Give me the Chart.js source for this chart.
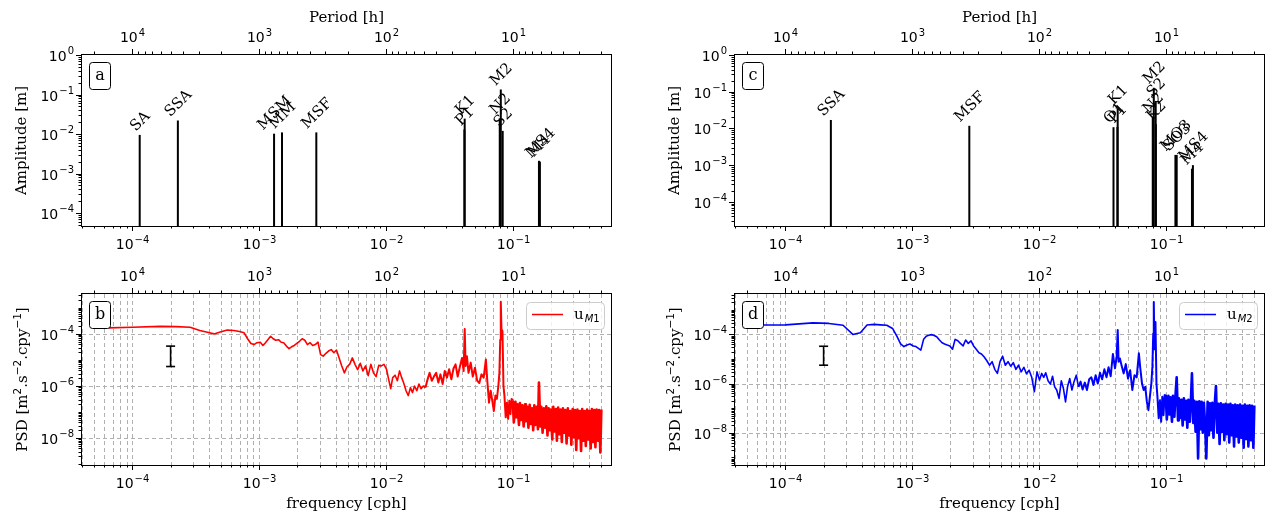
<!DOCTYPE html>
<html>
<head>
<meta charset="utf-8">
<script src="https://cdn.jsdelivr.net/npm/chart.js@4"></script>
<style>
  body{margin:0;background:#fff;width:1272px;height:518px;overflow:hidden}
  canvas{position:absolute}
</style>
</head>
<body>
<canvas id="ca" width="636" height="259" style="left:0;top:0"></canvas>
<canvas id="cc" width="636" height="259" style="left:636px;top:0"></canvas>
<canvas id="cb" width="636" height="259" style="left:0;top:259px"></canvas>
<canvas id="cd" width="636" height="259" style="left:636px;top:259px"></canvas>
<script>
// tidal constituents, panel a
const constA = ['SA', 'SSA', 'MSM', 'MM', 'MSF', 'P1', 'K1', 'N2', 'M2', 'S2', 'M4', 'MS4']
const freqA = [1.141e-4, 2.282e-4, 1.3098e-3, 1.5122e-3, 2.8219e-3, 0.0415526, 0.0417807, 0.0789992, 0.0805114, 0.0833333, 0.1610228, 0.1638447]
const ampA = [0.0095, 0.022, 0.0102, 0.011, 0.011, 0.013, 0.0245, 0.025, 0.134, 0.012, 0.0021, 0.0020]

// tidal constituents, panel c
const constC = ['SSA', 'MSF', 'O1', 'P1', 'K1', 'N2', 'K2', 'S2', 'M2', 'MO3', 'SO3', 'M4', 'MS4']
const freqC = [2.282e-4, 2.8219e-3, 0.0387307, 0.0415526, 0.0417807, 0.0789992, 0.0835615, 0.0833333, 0.0805114, 0.1192421, 0.1220640, 0.1610228, 0.1638447]
const ampC = [0.017, 0.0118, 0.0108, 0.011, 0.035, 0.02, 0.013, 0.056, 0.128, 0.0019, 0.0019, 0.0008, 0.0010]

// spectra (cph)
const freqPsd = [
  6.5e-5, 1.0e-4, 1.65e-4, 2.2e-4, 2.85e-4, 3.4e-4, 3.9e-4, 4.4e-4, 5.0e-4, 5.6e-4,
  6.3e-4, 7.0e-4, 7.6e-4, 8.1e-4, 8.6e-4, 9.1e-4, 9.6e-4, 1.02e-3, 1.07e-3, 1.12e-3,
  1.17e-3, 1.23e-3, 1.29e-3, 1.35e-3, 1.42e-3, 1.49e-3, 1.56e-3, 1.64e-3, 1.72e-3, 1.80e-3,
  1.89e-3, 1.98e-3, 2.08e-3, 2.18e-3, 2.29e-3, 2.40e-3, 2.52e-3, 2.64e-3, 2.77e-3, 2.91e-3,
  3.05e-3, 3.20e-3, 3.36e-3, 3.52e-3, 3.70e-3, 3.88e-3, 4.07e-3, 4.27e-3, 4.48e-3, 4.70e-3,
  4.93e-3, 5.17e-3, 5.43e-3, 5.70e-3, 5.98e-3, 6.27e-3, 6.58e-3, 6.90e-3, 7.24e-3, 7.60e-3,
  7.97e-3, 8.36e-3, 8.77e-3, 9.20e-3, 9.65e-3,
  0.0101, 0.0105, 0.0109, 0.0113, 0.0118, 0.0123, 0.0128, 0.0133, 0.0138, 0.0144,
  0.0150, 0.0156, 0.0162, 0.0168, 0.0175, 0.0182, 0.0189, 0.0197, 0.0205, 0.0213,
  0.0221, 0.0230, 0.0239, 0.0249, 0.0259, 0.0269, 0.0280, 0.0291, 0.0303, 0.0315,
  0.0328, 0.0341, 0.0354, 0.0368, 0.0383, 0.0398, 0.0410, 0.0418, 0.0425, 0.0435,
  0.0448, 0.0466, 0.0484, 0.0504, 0.0524, 0.0545, 0.0567, 0.0590, 0.0614, 0.0630,
  0.0650, 0.0670, 0.0690, 0.0710, 0.0730, 0.0750, 0.0770, 0.0785, 0.0797, 0.0805,
  0.0815, 0.0830, 0.0845, 0.0860, 0.0880, 0.0900, 0.0920, 0.0940, 0.0960, 0.0980,
  0.100, 0.102, 0.105, 0.107, 0.109, 0.112, 0.114, 0.117, 0.119, 0.122,
  0.125, 0.127, 0.130, 0.133, 0.136, 0.139, 0.142, 0.145, 0.148, 0.151,
  0.155, 0.158, 0.161, 0.165, 0.168, 0.172, 0.176, 0.180, 0.184, 0.188,
  0.192, 0.196, 0.200, 0.205, 0.209, 0.214, 0.219, 0.223, 0.228, 0.233,
  0.238, 0.244, 0.249, 0.255, 0.260, 0.266, 0.272, 0.278, 0.284, 0.290,
  0.297, 0.303, 0.310, 0.317, 0.324, 0.331, 0.338, 0.346, 0.353, 0.361,
  0.369, 0.377, 0.386, 0.394, 0.403, 0.412, 0.421, 0.430, 0.440, 0.449,
  0.459, 0.470, 0.480, 0.491, 0.500
]
const psdM1 = [
  1.7e-4, 1.8e-4, 1.95e-4, 1.9e-4, 1.8e-4, 1.35e-4, 1.15e-4, 1.0e-4, 1.2e-4, 1.4e-4,
  1.35e-4, 1.23e-4, 1.1e-4, 6.5e-5, 4.3e-5, 3.9e-5, 4.6e-5, 4.8e-5, 3.6e-5, 4.6e-5,
  6.0e-5, 8.1e-5, 6.5e-5, 5.7e-5, 6.0e-5, 4.8e-5, 4.6e-5, 3.4e-5, 2.7e-5, 3.2e-5,
  3.6e-5, 4.3e-5, 5.2e-5, 6.5e-5, 5.7e-5, 3.9e-5, 4.6e-5, 3.6e-5, 3.9e-5, 4.8e-5,
  1.6e-5, 1.4e-5, 1.8e-5, 2.2e-5, 2.5e-5, 1.9e-5, 2.4e-5, 1.2e-5, 5.9e-6, 3.2e-6,
  5.5e-6, 6.8e-6, 1.2e-5, 6.8e-6, 4.2e-6, 7.4e-6, 3.8e-6, 5.9e-6, 2.5e-6, 6.8e-6,
  3.2e-6, 2.3e-6, 6.2e-6, 5.9e-6, 6.8e-6,
  4.4e-6, 1.8e-6, 7.9e-7, 2.1e-6, 2.6e-6, 1.6e-6, 3.8e-6, 2.1e-6, 1.3e-6, 6.6e-7,
  4.3e-7, 8.7e-7, 5.6e-7, 1.0e-6, 6.6e-7, 1.2e-6, 7.9e-7, 1.0e-6, 8.7e-7, 1.8e-6,
  3.2e-6, 1.6e-6, 2.3e-6, 3.2e-6, 1.35e-6, 2.8e-6, 1.2e-6, 3.8e-6, 2.1e-6, 4.4e-6,
  1.8e-6, 4.7e-6, 6.8e-6, 2.3e-6, 5.5e-6, 1.2e-5, 3.8e-6, 1.55e-4, 5.9e-6, 1.4e-5,
  3.2e-6, 7.9e-6, 2.3e-6, 5.0e-6, 1.6e-6, 1.3e-6, 2.8e-6, 2.1e-6, 1.05e-5, 1.6e-6,
  2.3e-7, 6.6e-7, 2.7e-7, 1.1e-7, 4.3e-7, 3.2e-7, 1.0e-6, 3.2e-6, 6.0e-5, 1.7e-3,
  1.5e-4, 1.26e-4, 1.0e-6, 4.3e-7, 6.3e-8, 2.3e-7, 5.5e-8, 2.7e-7, 8.5e-8, 3.2e-7,
  2.8e-7, 4.0e-8, 2.5e-7, 6.3e-8, 2.0e-7, 3.2e-8, 2.2e-7, 5.0e-8, 1.8e-7, 2.8e-8,
  2.0e-7, 4.5e-8, 1.6e-7, 2.5e-8, 1.9e-7, 3.5e-8, 1.4e-7, 2.0e-8, 1.8e-7, 3.2e-8,
  1.6e-7, 2.2e-8, 1.35e-6, 2.8e-8, 1.6e-7, 1.6e-8, 1.4e-7, 2.5e-8, 1.65e-7, 1.26e-8,
  1.4e-7, 2.0e-8, 1.26e-7, 8.9e-9, 1.6e-7, 1.8e-8, 1.3e-7, 7.9e-9, 1.5e-7, 1.4e-8,
  1.26e-7, 7.1e-9, 1.4e-7, 1.6e-8, 1.2e-7, 6.3e-9, 1.4e-7, 1.26e-8, 1.1e-7, 5.6e-9,
  1.3e-7, 1.1e-8, 1.2e-7, 3.5e-9, 1.26e-7, 1.0e-8, 1.1e-7, 3.2e-9, 1.3e-7, 7.9e-9,
  1.1e-7, 5.0e-9, 1.26e-7, 8.9e-9, 1.1e-7, 4.0e-9, 1.3e-7, 7.1e-9, 1.2e-7, 4.5e-9,
  1.26e-7, 7.9e-9, 1.2e-7, 2.8e-9, 1.26e-7
]
const psdM2 = [
  2.4e-4, 2.45e-4, 2.95e-4, 2.8e-4, 2.35e-4, 1.0e-4, 1.17e-4, 2.4e-4, 2.55e-4, 2.45e-4,
  2.35e-4, 1.75e-4, 8.1e-5, 4.1e-5, 3.2e-5, 3.7e-5, 4.1e-5, 3.4e-5, 3.2e-5, 2.7e-5,
  2.3e-5, 6.3e-5, 8.5e-5, 9.3e-5, 9.8e-5, 9.1e-5, 8.1e-5, 5.9e-5, 4.6e-5, 4.1e-5,
  3.7e-5, 3.4e-5, 2.5e-5, 6.3e-5, 5.5e-5, 4.3e-5, 3.4e-5, 5.9e-5, 4.3e-5, 5.5e-5,
  3.4e-5, 2.5e-5, 1.8e-5, 1.6e-5, 1.2e-5, 8.5e-6, 5.6e-6, 7.8e-6, 3.8e-6, 2.6e-6,
  7.8e-6, 1.3e-5, 5.6e-6, 7.8e-6, 5.1e-6, 7.1e-6, 3.8e-6, 5.6e-6, 3.0e-6, 4.6e-6,
  2.5e-6, 3.5e-6, 1.8e-6, 4.7e-7, 3.0e-6,
  1.4e-6, 2.6e-6, 1.8e-6, 2.75e-6, 1.3e-6, 9.5e-7, 2.0e-6, 7.4e-7, 5.5e-7, 2.5e-7,
  1.3e-6, 6.3e-7, 1.8e-7, 7.4e-7, 1.6e-6, 5.5e-7, 1.2e-6, 2.2e-6, 7.4e-7, 1.2e-6,
  5.8e-7, 1.1e-6, 5.5e-7, 1.5e-6, 1.8e-6, 8.7e-7, 2.2e-6, 1.0e-6, 2.75e-6, 1.5e-6,
  3.8e-6, 1.8e-6, 4.6e-6, 2.0e-6, 1.6e-5, 4.2e-6, 1.2e-5, 1.5e-4, 7.8e-6, 1.05e-5,
  5.6e-6, 2.6e-6, 6.2e-6, 1.6e-6, 3.5e-6, 5.5e-7, 2.2e-6, 1.8e-6, 1.7e-5, 4.2e-6,
  1.0e-6, 5.5e-7, 7.4e-7, 1.8e-7, 8.3e-8, 2.95e-7, 1.0e-6, 4.9e-6, 1.1e-4, 2.1e-3,
  2.5e-5, 3.2e-4, 1.0e-6, 2.95e-7, 3.9e-8, 2.1e-7, 2.8e-8, 2.95e-7, 5.2e-8, 3.4e-7,
  3.5e-7, 3.5e-8, 3.2e-7, 5.6e-8, 2.8e-7, 2.8e-8, 3.2e-7, 4.5e-8, 2.5e-7, 1.8e-6,
  3.2e-8, 2.5e-7, 4.0e-8, 2.2e-7, 2.0e-8, 2.5e-7, 3.5e-8, 2.0e-7, 1.6e-8, 2.2e-7,
  2.8e-8, 2.0e-7, 2.6e-6, 2.5e-8, 2.0e-7, 1.1e-8, 1.8e-7, 9.1e-10, 1.9e-7, 1.4e-8,
  1.8e-7, 1.0e-8, 1.65e-7, 1.6e-8, 9.1e-10, 1.8e-7, 7.9e-9, 1.6e-7, 1.26e-8, 1.65e-7,
  6.3e-9, 1.6e-7, 7.9e-7, 1.0e-8, 1.5e-7, 3.5e-9, 1.6e-7, 1.1e-8, 1.4e-7, 5.0e-9,
  1.5e-7, 8.9e-9, 1.4e-7, 4.0e-9, 1.5e-7, 7.9e-9, 1.3e-7, 2.8e-9, 1.4e-7, 7.1e-9,
  1.3e-7, 4.0e-9, 1.4e-7, 6.3e-9, 1.26e-7, 2.5e-9, 1.4e-7, 5.6e-9, 1.26e-7, 2.8e-9,
  1.3e-7, 5.0e-9, 1.26e-7, 2.5e-9, 1.3e-7
]

// confidence bar
const errFreq = [2e-4]
const errLowM1 = [5.6e-6], errHighM1 = [3.4e-5]
const errLowM2 = [5.6e-6], errHighM2 = [3.3e-5]

// axes ticks
const freqMajor = [1e-4, 1e-3, 1e-2, 1e-1]
const periodMajor = [1e4, 1e3, 1e2, 1e1]
const ampMajor = [1, 1e-1, 1e-2, 1e-3, 1e-4]
const psdMajor = [1e-4, 1e-6, 1e-8]

const xMin = 4.0e-5, xMax = 0.596
const SANS = '"DejaVu Sans"', SERIF = '"DejaVu Serif"'

const isMajor = (v, list) => list.some(m => Math.abs(Math.log10(v) - Math.log10(m)) < 1e-6)
function logTicks(lo, hi){
  const out = []
  for(let n = Math.floor(Math.log10(lo)); n <= Math.ceil(Math.log10(hi)); n++){
    for(let k = 1; k <= 9; k++){
      const v = k * Math.pow(10, n)
      if(v >= lo * 0.9999 && v <= hi * 1.0001) out.push(v)
    }
  }
  return out
}
function periodTicks(){
  const out = []
  for(let n = 0; n <= 5; n++){
    for(let k = 1; k <= 9; k++){
      const f = 1 / (k * Math.pow(10, n))
      if(f >= xMin && f <= xMax) out.push({f: f, p: k * Math.pow(10, n)})
    }
  }
  return out
}
const expText = v => { const e = Math.round(Math.log10(v)); return e < 0 ? '\u2212' + (-e) : String(e) }

function line(ctx, x1, y1, x2, y2){
  ctx.beginPath(); ctx.moveTo(x1, y1); ctx.lineTo(x2, y2); ctx.stroke()
}
const crisp = v => Math.round(v) + 0.5

// "10^e" in matplotlib mathtext fashion
function drawPow(ctx, v, x, y, align){
  const ex = expText(v)
  ctx.font = '14px ' + SANS
  const w1 = ctx.measureText('10').width
  ctx.font = '10px ' + SANS
  const w2 = ctx.measureText(ex).width
  const tw = w1 + w2 + 1
  const x0 = align === 'right' ? x - tw : align === 'center' ? x - tw / 2 : x
  ctx.textAlign = 'left'; ctx.textBaseline = 'alphabetic'
  ctx.font = '14px ' + SANS
  ctx.fillText('10', x0, y)
  ctx.font = '10px ' + SANS
  ctx.fillText(ex, x0 + w1 + 1, y - 6.5)
}

// parts: [text, font, dy]
function drawRich(ctx, parts, x, y){
  let tw = 0
  parts.forEach(p => { ctx.font = p[1]; tw += ctx.measureText(p[0]).width })
  let cx = x - tw / 2
  ctx.textAlign = 'left'; ctx.textBaseline = 'alphabetic'
  parts.forEach(p => { ctx.font = p[1]; ctx.fillText(p[0], cx, y + p[2]); cx += ctx.measureText(p[0]).width })
}

function mplAxes(p){
  return {
    id: 'mplAxes',
    beforeDatasetsDraw(chart){
      if(!p.grid) return
      const {ctx, chartArea: a, scales: {x, y}} = chart
      ctx.save()
      ctx.strokeStyle = '#b0b0b0'; ctx.lineWidth = 1; ctx.setLineDash([4, 3])
      logTicks(xMin, xMax).forEach(v => { const px = crisp(x.getPixelForValue(v)); line(ctx, px, a.top, px, a.bottom) })
      p.yMajor.forEach(v => { const py = crisp(y.getPixelForValue(v)); line(ctx, a.left, py, a.right, py) })
      ctx.restore()
    },
    afterDatasetsDraw(chart){
      const {ctx, chartArea: a, scales: {x, y}} = chart
      ctx.save()
      ctx.fillStyle = '#000'; ctx.strokeStyle = '#000'; ctx.lineWidth = 1

      // constituent names
      if(p.names){
        ctx.font = '15px ' + SERIF
        p.names.forEach((n, i) => {
          const px = x.getPixelForValue(p.cfreq[i]), py = y.getPixelForValue(p.camp[i])
          const w = ctx.measureText(n).width, h = 16
          const half = (w + h) / Math.SQRT2 / 2
          ctx.save()
          ctx.translate(px, py - half - 1)
          ctx.rotate(-Math.PI / 4)
          ctx.textAlign = 'center'; ctx.textBaseline = 'middle'
          ctx.fillText(n, 0, 1)
          ctx.restore()
        })
      }

      // frame
      ctx.strokeRect(crisp(a.left) - 1, crisp(a.top) - 1, Math.round(a.right - a.left) + 1, Math.round(a.bottom - a.top) + 1)

      // bottom ticks (frequency)
      logTicks(xMin, xMax).forEach(v => {
        const px = crisp(x.getPixelForValue(v)), maj = isMajor(v, freqMajor)
        line(ctx, px, a.bottom, px, a.bottom + (maj ? 5 : 2.5))
        if(maj) drawPow(ctx, v, px, a.bottom + 23, 'center')
      })
      // top ticks (period)
      periodTicks().forEach(t => {
        const px = crisp(x.getPixelForValue(t.f)), maj = isMajor(t.p, periodMajor)
        line(ctx, px, a.top - 1, px, a.top - 1 - (maj ? 5 : 2.5))
        if(maj) drawPow(ctx, t.p, px, a.top - 13, 'center')
      })
      // left ticks
      logTicks(y.min, y.max).forEach(v => {
        const py = crisp(y.getPixelForValue(v)), maj = isMajor(v, p.yMajor)
        line(ctx, a.left - 1, py, a.left - 1 - (maj ? 5 : 2.5), py)
        if(maj) drawPow(ctx, v, a.left - 8, py + 5, 'right')
      })

      // titles
      ctx.fillStyle = '#000'
      ctx.font = '15px ' + SERIF; ctx.textAlign = 'center'; ctx.textBaseline = 'middle'
      const cx = (a.left + a.right) / 2, cy = (a.top + a.bottom) / 2
      if(p.topTitle) ctx.fillText('Period [h]', cx, a.top - 37)
      if(p.bottomTitle) ctx.fillText('frequency [cph]', cx, a.bottom + 39)
      ctx.save()
      ctx.translate(a.left - 60, cy); ctx.rotate(-Math.PI / 2)
      if(p.yTitle === 'amp'){
        ctx.font = '15px ' + SERIF; ctx.fillText('Amplitude [m]', 0, 0)
      } else {
        const big = '15px ' + SERIF, sup = '10.5px ' + SANS
        drawRich(ctx, [['PSD [m', big, 0], ['2', sup, -6.5], ['.s', big, 0], ['\u22122', sup, -6.5],
          ['.cpy', big, 0], ['\u22121', sup, -6.5], [']', big, 0]], 0, 5)
      }
      ctx.restore()

      // panel letter
      ctx.beginPath(); ctx.roundRect(crisp(a.left + 7), crisp(a.top + 7), 21, 27, 3)
      ctx.fillStyle = '#fff'; ctx.fill(); ctx.stroke()
      ctx.fillStyle = '#000'; ctx.font = '16px ' + SERIF; ctx.textAlign = 'center'; ctx.textBaseline = 'middle'
      ctx.fillText(p.letter, a.left + 18, a.top + 21)

      // legend
      if(p.legend){
        const bx = a.right - 85, by = a.top + 8
        ctx.beginPath(); ctx.roundRect(crisp(bx), crisp(by), 78, 27, 4)
        ctx.fillStyle = 'rgba(255,255,255,0.8)'; ctx.fill()
        ctx.strokeStyle = '#cccccc'; ctx.stroke()
        ctx.strokeStyle = p.color; ctx.lineWidth = 1.5
        line(ctx, bx + 6, by + 12.5, bx + 37, by + 12.5)
        ctx.fillStyle = '#000'; ctx.textAlign = 'left'; ctx.textBaseline = 'alphabetic'
        ctx.font = '15px ' + SERIF; ctx.fillText('u', bx + 48, by + 17)
        const uw = ctx.measureText('u').width
        ctx.font = 'italic 10px ' + SANS; ctx.fillText('M', bx + 48 + uw + 1, by + 20)
        const mw = ctx.measureText('M').width
        ctx.font = '10px ' + SANS; ctx.fillText(p.legend, bx + 48 + uw + 1 + mw, by + 20)
      }
      ctx.restore()
    }
  }
}

function makePanel(id, p){
  const datasets = []
  if(p.names){
    p.names.forEach((n, i) => datasets.push({
      data: [{x: p.cfreq[i], y: p.yMin}, {x: p.cfreq[i], y: p.camp[i]}],
      borderColor: '#000', borderWidth: 2, pointRadius: 0
    }))
  }
  if(p.psd){
    datasets.push({
      data: freqPsd.map((f, i) => ({x: f, y: p.psd[i]})),
      borderColor: p.color, borderWidth: 1.6, pointRadius: 0, tension: 0,
      borderJoinStyle: 'round',
      // the noisy part of the spectrum reads as a filled band
      segment: {borderWidth: c => c.p0.parsed.x >= 0.099 ? 2.6 : c.p0.parsed.x >= 0.02 ? 2 : 1.6}
    })
    datasets.push({
      data: [{x: errFreq[0], y: p.errLow[0]}, {x: errFreq[0], y: p.errHigh[0]}],
      borderColor: '#000', borderWidth: 1.6, pointStyle: 'line', pointRadius: 4.5,
      pointBorderWidth: 1.6, pointBorderColor: '#000'
    })
  }
  new Chart(document.getElementById(id), {
    type: 'line',
    data: {datasets},
    options: {
      responsive: false, animation: false, devicePixelRatio: 1, events: [],
      layout: {padding: p.pad},
      plugins: {legend: {display: false}, tooltip: {enabled: false}},
      scales: {
        x: {type: 'logarithmic', min: xMin, max: xMax, display: false},
        y: {type: 'logarithmic', min: p.yMin, max: p.yMax, display: false}
      }
    },
    plugins: [mplAxes(p)]
  })
}

makePanel('ca', {letter: 'a', pad: {left: 82, right: 25, top: 55, bottom: 33}, yMin: 4.7e-5, yMax: 1,
  yMajor: ampMajor, yTitle: 'amp', topTitle: true, names: constA, cfreq: freqA, camp: ampA})
makePanel('cc', {letter: 'c', pad: {left: 99, right: 8, top: 55, bottom: 33}, yMin: 2.2e-5, yMax: 1,
  yMajor: ampMajor, yTitle: 'amp', topTitle: true, names: constC, cfreq: freqC, camp: ampC})
makePanel('cb', {letter: 'b', pad: {left: 82, right: 25, top: 35, bottom: 53}, yMin: 9.3e-10, yMax: 3.4e-3,
  yMajor: psdMajor, yTitle: 'psd', bottomTitle: true, grid: true, psd: psdM1, color: '#ff0000',
  legend: '1', errLow: errLowM1, errHigh: errHighM1})
makePanel('cd', {letter: 'd', pad: {left: 99, right: 8, top: 35, bottom: 53}, yMin: 4.9e-10, yMax: 4.4e-3,
  yMajor: psdMajor, yTitle: 'psd', bottomTitle: true, grid: true, psd: psdM2, color: '#0000ff',
  legend: '2', errLow: errLowM2, errHigh: errHighM2})
</script>
</body>
</html>
